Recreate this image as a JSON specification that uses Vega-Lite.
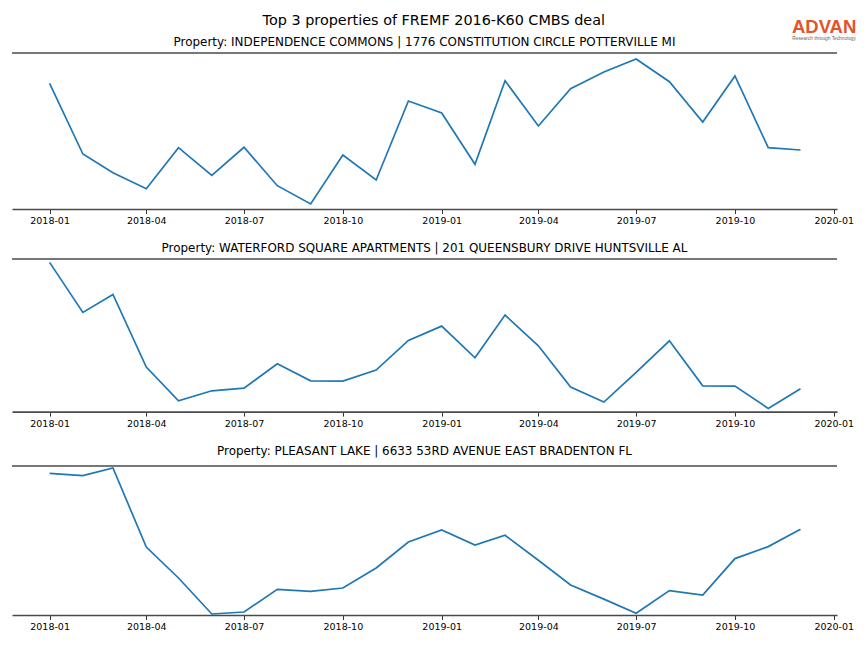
{
  "$schema": "https://vega.github.io/schema/vega-lite/v6.json",
  "background": "white",
  "padding": {"left": 11, "top": 13, "right": 5, "bottom": 5},
  "title": {"text": "Top 3 properties of FREMF 2016-K60 CMBS deal", "fontSize": 14.4, "fontWeight": "normal", "font": "DejaVu Sans", "color": "black", "anchor": "middle", "frame": "bounds", "offset": -10.5},
  "spacing": 16,
  "datasets": {
    "p1": [
      {"month": "2018/01/01", "value": 125.7}, {"month": "2018/02/01", "value": 55}, {"month": "2018/03/01", "value": 36.3},
      {"month": "2018/04/01", "value": 20.3}, {"month": "2018/05/01", "value": 61.3}, {"month": "2018/06/01", "value": 33.7},
      {"month": "2018/07/01", "value": 61.7}, {"month": "2018/08/01", "value": 23.3}, {"month": "2018/09/01", "value": 5},
      {"month": "2018/10/01", "value": 54}, {"month": "2018/11/01", "value": 29}, {"month": "2018/12/01", "value": 108},
      {"month": "2019/01/01", "value": 96}, {"month": "2019/02/01", "value": 44.7}, {"month": "2019/03/01", "value": 128.3},
      {"month": "2019/04/01", "value": 83}, {"month": "2019/05/01", "value": 120.3}, {"month": "2019/06/01", "value": 137},
      {"month": "2019/07/01", "value": 150}, {"month": "2019/08/01", "value": 127.3}, {"month": "2019/09/01", "value": 87},
      {"month": "2019/10/01", "value": 133}, {"month": "2019/11/01", "value": 61.3}, {"month": "2019/12/01", "value": 59}
    ],
    "p2": [
      {"month": "2018/01/01", "value": 149.2}, {"month": "2018/02/01", "value": 99.2}, {"month": "2018/03/01", "value": 117.2},
      {"month": "2018/04/01", "value": 44.5}, {"month": "2018/05/01", "value": 10.8}, {"month": "2018/06/01", "value": 20.8},
      {"month": "2018/07/01", "value": 23.5}, {"month": "2018/08/01", "value": 47.8}, {"month": "2018/09/01", "value": 30.8},
      {"month": "2018/10/01", "value": 30.5}, {"month": "2018/11/01", "value": 41.5}, {"month": "2018/12/01", "value": 71.2},
      {"month": "2019/01/01", "value": 85.5}, {"month": "2019/02/01", "value": 53.8}, {"month": "2019/03/01", "value": 96.5},
      {"month": "2019/04/01", "value": 65.8}, {"month": "2019/05/01", "value": 24.5}, {"month": "2019/06/01", "value": 9.5},
      {"month": "2019/07/01", "value": 39.2}, {"month": "2019/08/01", "value": 70.8}, {"month": "2019/09/01", "value": 25.8},
      {"month": "2019/10/01", "value": 25.5}, {"month": "2019/11/01", "value": 3.2}, {"month": "2019/12/01", "value": 22.8}
    ],
    "p3": [
      {"month": "2018/01/01", "value": 141.7}, {"month": "2018/02/01", "value": 139.4}, {"month": "2018/03/01", "value": 147},
      {"month": "2018/04/01", "value": 68}, {"month": "2018/05/01", "value": 37}, {"month": "2018/06/01", "value": 1},
      {"month": "2018/07/01", "value": 3}, {"month": "2018/08/01", "value": 25.7}, {"month": "2018/09/01", "value": 23.7},
      {"month": "2018/10/01", "value": 27}, {"month": "2018/11/01", "value": 47}, {"month": "2018/12/01", "value": 73},
      {"month": "2019/01/01", "value": 85}, {"month": "2019/02/01", "value": 70}, {"month": "2019/03/01", "value": 79.7},
      {"month": "2019/04/01", "value": 54.7}, {"month": "2019/05/01", "value": 30}, {"month": "2019/06/01", "value": 15.9},
      {"month": "2019/07/01", "value": 1.7}, {"month": "2019/08/01", "value": 24.4}, {"month": "2019/09/01", "value": 20},
      {"month": "2019/10/01", "value": 56.4}, {"month": "2019/11/01", "value": 68.4}, {"month": "2019/12/01", "value": 85.7}
    ]
  },
  "vconcat": [
    {
      "width": 825, "height": 156,
      "title": {"text": "Property: INDEPENDENCE COMMONS | 1776 CONSTITUTION CIRCLE POTTERVILLE MI", "offset": -31.2},
      "data": {"name": "p1"},
      "layer": [
        {
          "mark": {"type": "line", "color": "#1f77b4", "strokeWidth": 1.7},
          "encoding": {
            "x": {"field": "month", "type": "temporal", "scale": {"domain": [{"year": 2017, "month": 11, "date": 27}, {"year": 2020, "month": 1, "date": 4}], "nice": false}, "axis": {"format": "%Y-%m", "tickCount": {"interval": "month", "step": 3}}},
            "y": {"field": "value", "type": "quantitative", "scale": {"domain": [0, 156], "nice": false, "zero": false}, "axis": null}
          }
        },
        {
          "data": {"values": [{}]},
          "mark": {"type": "rule", "color": "#4a4a4a", "strokeWidth": 1.6},
          "encoding": {"y": {"datum": 156, "type": "quantitative", "axis": null}}
        },
        {
          "data": {"values": [{"label": "ADVAN"}]},
          "mark": {"type": "text", "font": "Liberation Sans", "fontWeight": "bold", "fontSize": 18.5, "color": "#e4532b", "align": "center", "baseline": "middle"},
          "encoding": {
            "x": {"datum": {"year": 2019, "month": 12, "date": 23}, "type": "temporal"},
            "y": {"datum": 182, "type": "quantitative"},
            "text": {"field": "label"}
          }
        },
        {
          "data": {"values": [{"label": "Research through Technology"}]},
          "mark": {"type": "text", "font": "Liberation Sans", "fontSize": 4.8, "color": "#666666", "align": "center", "baseline": "middle"},
          "encoding": {
            "x": {"datum": {"year": 2019, "month": 12, "date": 23}, "type": "temporal"},
            "y": {"datum": 170.5, "type": "quantitative"},
            "text": {"field": "label"}
          }
        }
      ]
    },
    {
      "width": 825, "height": 152.6,
      "title": {"text": "Property: WATERFORD SQUARE APARTMENTS | 201 QUEENSBURY DRIVE HUNTSVILLE AL", "offset": 3.5},
      "data": {"name": "p2"},
      "layer": [
        {
          "mark": {"type": "line", "color": "#1f77b4", "strokeWidth": 1.7},
          "encoding": {
            "x": {"field": "month", "type": "temporal", "scale": {"domain": [{"year": 2017, "month": 11, "date": 27}, {"year": 2020, "month": 1, "date": 4}], "nice": false}, "axis": {"format": "%Y-%m", "tickCount": {"interval": "month", "step": 3}}},
            "y": {"field": "value", "type": "quantitative", "scale": {"domain": [0, 152.6], "nice": false, "zero": false}, "axis": null}
          }
        },
        {
          "data": {"values": [{}]},
          "mark": {"type": "rule", "color": "#4a4a4a", "strokeWidth": 1.6},
          "encoding": {"y": {"datum": 152.6, "type": "quantitative", "axis": null}}
        }
      ]
    },
    {
      "width": 825, "height": 149,
      "title": {"text": "Property: PLEASANT LAKE | 6633 53RD AVENUE EAST BRADENTON FL", "offset": 7},
      "data": {"name": "p3"},
      "layer": [
        {
          "mark": {"type": "line", "color": "#1f77b4", "strokeWidth": 1.7},
          "encoding": {
            "x": {"field": "month", "type": "temporal", "scale": {"domain": [{"year": 2017, "month": 11, "date": 27}, {"year": 2020, "month": 1, "date": 4}], "nice": false}, "axis": {"format": "%Y-%m", "tickCount": {"interval": "month", "step": 3}}},
            "y": {"field": "value", "type": "quantitative", "scale": {"domain": [0, 149], "nice": false, "zero": false}, "axis": null}
          }
        },
        {
          "data": {"values": [{}]},
          "mark": {"type": "rule", "color": "#4a4a4a", "strokeWidth": 1.6},
          "encoding": {"y": {"datum": 149, "type": "quantitative", "axis": null}}
        }
      ]
    }
  ],
  "config": {
    "view": {"stroke": null},
    "font": "DejaVu Sans",
    "title": {"font": "DejaVu Sans", "fontSize": 11.95, "fontWeight": "normal", "color": "black"},
    "axis": {
      "grid": false, "title": null,
      "labelFont": "DejaVu Sans", "labelFontSize": 9.5, "labelColor": "black", "labelPadding": 2,
      "labelFlush": false, "labelOverlap": false,
      "tickColor": "black", "tickSize": 4.5, "tickWidth": 0.8,
      "domainColor": "#4a4a4a", "domainWidth": 1.6
    }
  }
}
